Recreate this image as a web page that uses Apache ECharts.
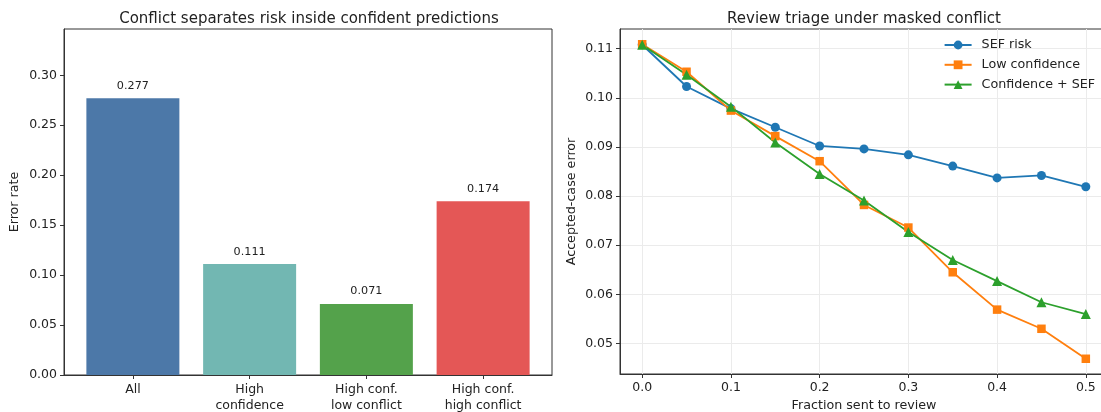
<!DOCTYPE html>
<html>
<head>
<meta charset="utf-8">
<script src="https://cdn.jsdelivr.net/npm/echarts@6/dist/echarts.min.js"></script>
<style>
  html, body { margin: 0; padding: 0; background: #fff; }
  #chart { width: 1101px; height: 412px; }
</style>
</head>
<body>
<div id="chart"></div>
<script>
// Left panel: error rate per subgroup
const categories = ['All', 'High\nconfidence', 'High conf.\nlow conflict', 'High conf.\nhigh conflict'];
const errorRates = [0.277, 0.111, 0.071, 0.174];
const barColors = ['#4c78a8', '#72b7b2', '#54a24b', '#e45756'];
const barTicks = [0, 0.05, 0.10, 0.15, 0.20, 0.25, 0.30];

// Right panel: accepted-case error as a function of review fraction
const reviewFractions = [0, 0.05, 0.10, 0.15, 0.20, 0.25, 0.30, 0.35, 0.40, 0.45, 0.50];
const sefRisk       = [0.1108, 0.1023, 0.0978, 0.0940, 0.0902, 0.0896, 0.0884, 0.0861, 0.0837, 0.0842, 0.0819];
const lowConfidence = [0.1109, 0.1053, 0.0974, 0.0922, 0.0871, 0.0782, 0.0736, 0.0645, 0.0569, 0.0530, 0.0469];
const confPlusSef   = [0.1108, 0.1047, 0.0982, 0.0909, 0.0845, 0.0791, 0.0727, 0.0670, 0.0627, 0.0584, 0.0560];
const fractionTicks = [0, 0.1, 0.2, 0.3, 0.4, 0.5];
const errorTicks = [0.05, 0.06, 0.07, 0.08, 0.09, 0.10, 0.11];

const FONT = 'DejaVu Sans';
const INK = '#222';
const SPINE = '#333';
const TICK_FS = 12.5;
const LABEL_FS = 12.7;

const pair = (xs, ys) => xs.map((x, i) => [x, ys[i]]);

const chart = echarts.init(document.getElementById('chart'), null, { renderer: 'canvas' });

const tickStyle = { show: true, length: 4, lineStyle: { color: SPINE, width: 1 } };
const lineStyleAxis = { show: true, onZero: false, lineStyle: { color: SPINE, width: 1 } };

chart.setOption({
  animation: false,
  textStyle: { fontFamily: FONT },
  title: [
    { text: 'Conflict separates risk inside confident predictions', left: 304, top: 7, textAlign: 'center',
      textStyle: { fontFamily: FONT, fontSize: 15, fontWeight: 'normal', color: INK } },
    { text: 'Review triage under masked conflict', left: 859, top: 7, textAlign: 'center',
      textStyle: { fontFamily: FONT, fontSize: 15, fontWeight: 'normal', color: INK } }
  ],
  legend: {
    orient: 'vertical', right: 1, top: 33.5, itemWidth: 27, itemHeight: 11, itemGap: 6.8,
    align: 'left',
    textStyle: { fontFamily: FONT, fontSize: LABEL_FS, color: INK, padding: [0, 0, 0, 5] },
    data: ['SEF risk', 'Low confidence', 'Confidence + SEF']
  },
  grid: [
    { left: 64, width: 488, top: 29, height: 346, show: true, borderColor: SPINE, borderWidth: 1,
      containLabel: false, outerBoundsMode: 'none' },
    { left: 620, width: 488, top: 29, height: 345, show: true, borderColor: SPINE, borderWidth: 1,
      containLabel: false, outerBoundsMode: 'none' }
  ],
  xAxis: [
    {
      gridIndex: 0, type: 'value', min: -0.59, max: 3.59,
      axisLine: lineStyleAxis,
      axisTick: Object.assign({ customValues: [0, 1, 2, 3] }, tickStyle),
      axisLabel: { customValues: [0, 1, 2, 3], formatter: v => categories[Math.round(v)],
        fontFamily: FONT, fontSize: TICK_FS, color: INK, margin: 7, lineHeight: 15.5, verticalAlign: 'top' },
      splitLine: { show: false }
    },
    {
      gridIndex: 1, type: 'value', min: -0.025, max: 0.525,
      name: 'Fraction sent to review', nameLocation: 'middle', nameGap: 25,
      nameTextStyle: { fontFamily: FONT, fontSize: LABEL_FS, color: INK },
      axisLine: lineStyleAxis,
      axisTick: Object.assign({ customValues: fractionTicks }, tickStyle),
      axisLabel: { customValues: fractionTicks, formatter: v => v.toFixed(1),
        fontFamily: FONT, fontSize: TICK_FS, color: INK, margin: 7 },
      splitLine: { show: true, lineStyle: { color: '#ebebeb', width: 1 } }
    }
  ],
  yAxis: [
    {
      gridIndex: 0, type: 'value', min: 0, max: 0.3463,
      name: 'Error rate', nameLocation: 'middle', nameGap: 43,
      nameTextStyle: { fontFamily: FONT, fontSize: LABEL_FS, color: INK },
      axisLine: lineStyleAxis,
      axisTick: Object.assign({ customValues: barTicks }, tickStyle),
      axisLabel: { customValues: barTicks, formatter: v => v.toFixed(2),
        fontFamily: FONT, fontSize: TICK_FS, color: INK, margin: 7 },
      splitLine: { show: false }
    },
    {
      gridIndex: 1, type: 'value', min: 0.0438, max: 0.1140,
      name: 'Accepted-case error', nameLocation: 'middle', nameGap: 42,
      nameTextStyle: { fontFamily: FONT, fontSize: LABEL_FS, color: INK },
      axisLine: lineStyleAxis,
      axisTick: Object.assign({ customValues: errorTicks }, tickStyle),
      axisLabel: { customValues: errorTicks, formatter: v => v.toFixed(2),
        fontFamily: FONT, fontSize: TICK_FS, color: INK, margin: 7 },
      splitLine: { show: true, lineStyle: { color: '#ebebeb', width: 1 } }
    }
  ],
  series: [
    {
      type: 'bar', xAxisIndex: 0, yAxisIndex: 0, barWidth: 93,
      data: errorRates.map((v, i) => ({ value: [i, v], itemStyle: { color: barColors[i] } })),
      label: { show: true, position: 'top', distance: 7, formatter: p => p.value[1].toFixed(3),
        fontFamily: FONT, fontSize: 11.2, color: INK }
    },
    {
      name: 'SEF risk', type: 'line', xAxisIndex: 1, yAxisIndex: 1,
      data: pair(reviewFractions, sefRisk),
      symbol: 'circle', symbolSize: 9,
      lineStyle: { color: '#1f77b4', width: 1.8 }, itemStyle: { color: '#1f77b4' }
    },
    {
      name: 'Low confidence', type: 'line', xAxisIndex: 1, yAxisIndex: 1,
      data: pair(reviewFractions, lowConfidence),
      symbol: 'rect', symbolSize: 8.5,
      lineStyle: { color: '#ff7f0e', width: 1.8 }, itemStyle: { color: '#ff7f0e' }
    },
    {
      name: 'Confidence + SEF', type: 'line', xAxisIndex: 1, yAxisIndex: 1,
      data: pair(reviewFractions, confPlusSef),
      symbol: 'triangle', symbolSize: 10,
      lineStyle: { color: '#2ca02c', width: 1.8 }, itemStyle: { color: '#2ca02c' }
    }
  ]
});
</script>
</body>
</html>
